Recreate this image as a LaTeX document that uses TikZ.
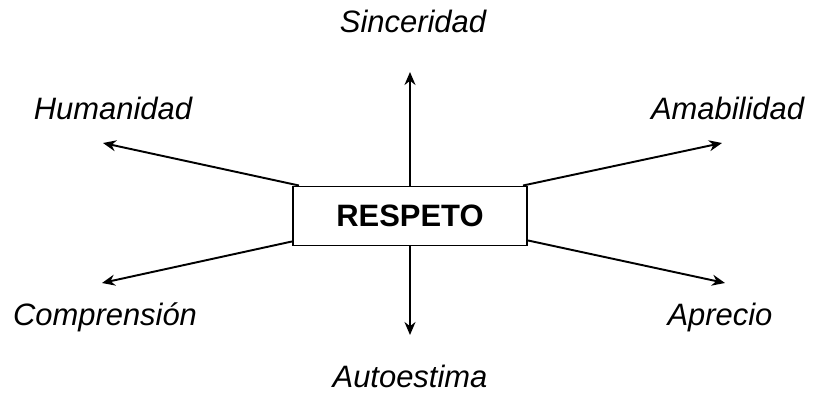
\documentclass[tikz,border=0pt]{standalone}
\usepackage{fontspec}
\setmainfont{Liberation Sans}
\usetikzlibrary{arrows.meta}
\usetikzlibrary{calc}

\begin{document}
\begin{tikzpicture}[
	flecha/.style={-{Stealth[length=2.6mm,width=2.2mm]}, line width=1.1pt},
	valor/.style={anchor=base, font=\fontsize{17.6}{21}\selectfont\itshape, inner sep=0pt},
	centro/.style={draw, line width=1.1pt, minimum width=4.68cm, minimum height=1.18cm, font=\fontsize{17.6}{21}\selectfont\bfseries}
	]
				\useasboundingbox (0,0) rectangle (16.28,8.06);
				\node [centro] (respeto) at (8.2,3.74) {RESPETO};
				\coordinate (arriba) at (8.2,6.62);
				\coordinate (abajo) at (8.2,1.36);
				\coordinate (hum) at (2.06,5.2);
				\coordinate (ama) at (14.44,5.2);
				\coordinate (com) at (2.04,2.4);
				\coordinate (apr) at (14.5,2.4);
				\draw [flecha] (respeto.north) -- (arriba);
				\draw [flecha] (respeto.south) -- (abajo);
				\draw [flecha] ($(respeto.north west)+(0.14,0)$) -- (hum);
				\draw [flecha] ($(respeto.north east)+(-0.1,0)$) -- (ama);
				\draw [flecha] ($(respeto.south west)+(0,0.1)$) -- (com);
				\draw [flecha] ($(respeto.south east)+(0,0.12)$) -- (apr);
				\node [valor] (sin) at (8.26,7.4) {Sinceridad};
				\node [valor] (hu) at (2.26,5.66) {Humanidad};
				\node [valor] (am) at (14.55,5.66) {Amabilidad};
				\node [valor] (co) at (2.1,1.54) {Comprensión};
				\node [valor] (ap) at (14.4,1.54) {Aprecio};
				\node [valor] (au) at (8.2,0.3) {Autoestima};
			\end{tikzpicture}
\end{document}
